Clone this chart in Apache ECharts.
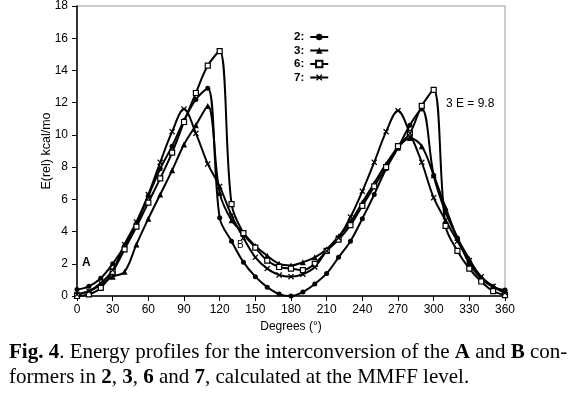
<!DOCTYPE html>
<html><head><meta charset="utf-8">
<script src="https://cdn.jsdelivr.net/npm/echarts@6/dist/echarts.min.js"></script>
<style>html,body{margin:0;padding:0;background:#fff}#c{width:580px;height:399px}</style>
</head><body><div id="c"></div>
<script>
const degrees = [0,10,20,30,40,50,60,70,80,90,100,110,120,130,140,150,160,170,180,190,200,210,220,230,240,250,260,270,280,290,300,310,320,330,340,350,360];
const s2 = [0.4,0.6,1.1,2.0,3.1,4.5,6.2,7.9,9.3,10.9,12.2,12.9,4.85,3.4,2.1,1.2,0.55,0.12,0.0,0.25,0.75,1.4,2.4,3.4,4.8,6.3,7.9,9.2,10.6,11.6,7.5,5.2,3.6,2.0,1.1,0.55,0.37];
const s3 = [0.1,0.3,0.7,1.2,1.5,3.2,4.8,6.3,7.8,9.4,10.6,11.8,6.4,4.7,3.9,3.1,2.5,2.0,1.9,2.1,2.4,2.9,3.7,4.6,5.8,7.0,8.2,9.2,9.8,9.3,7.5,5.5,3.6,2.3,1.1,0.6,0.2];
const s6 = [0.0,0.1,0.5,1.5,2.9,4.3,5.8,7.3,8.9,10.8,12.6,14.3,15.2,5.7,3.9,3.0,2.2,1.8,1.7,1.6,2.0,2.8,3.5,4.4,5.6,6.8,8.0,9.3,10.1,11.8,12.8,4.35,2.8,1.7,0.9,0.3,0.06];
const s7 = [0.1,0.3,0.8,1.6,3.2,4.6,6.3,8.3,10.2,11.6,10.1,8.2,6.8,5.0,3.6,2.4,1.7,1.3,1.2,1.35,1.8,2.8,3.6,4.9,6.5,8.3,10.2,11.5,10.1,8.3,6.1,4.7,3.4,2.2,1.2,0.6,0.2];
const seriesNames = ['2:','3:','6:','7:'];
const xTicks = {min:0,max:360,interval:30};
const yTicks = {min:0,max:18,interval:2};

const pairs = a => degrees.map((d,i)=>[d,a[i]]);
const xSym = 'path://M0,1.5L1.5,0L5,3.5L8.5,0L10,1.5L6.5,5L10,8.5L8.5,10L5,6.5L1.5,10L0,8.5L3.5,5Z';
const base = {type:'line',smooth:0.35,lineStyle:{color:'#000',width:2},symbolSize:5};
const chart = echarts.init(document.getElementById('c'),null,{renderer:'canvas'});
chart.setOption({
  animation:false,
  backgroundColor:'#fff',
  grid:{left:77,top:3,right:75,bottom:103,show:true,borderColor:'#999',borderWidth:1,backgroundColor:'#fff'},
  legend:{orient:'vertical',left:289,top:26,itemGap:1.5,itemWidth:18,itemHeight:8,align:'right',
    textStyle:{fontFamily:'Liberation Sans',fontSize:11.5,lineHeight:10,fontWeight:'bold',color:'#000',padding:[0,1,0,0]},
    data:seriesNames},
  xAxis:{type:'value',min:xTicks.min,max:xTicks.max,interval:xTicks.interval,
    name:'Degrees (°)',nameLocation:'middle',nameGap:23,
    nameTextStyle:{fontFamily:'Liberation Sans',fontSize:12,color:'#000'},
    axisLine:{lineStyle:{color:'#000',width:1.5}},axisTick:{inside:false,length:5,lineStyle:{color:'#000'}},
    axisLabel:{fontFamily:'Liberation Sans',fontSize:12,color:'#000',margin:8},splitLine:{show:false}},
  yAxis:{type:'value',min:yTicks.min,max:yTicks.max,interval:yTicks.interval,
    name:'E(rel) kcal/mo',nameLocation:'middle',nameGap:24,nameRotate:90,nameMoveOverlap:false,
    nameTextStyle:{fontFamily:'Liberation Sans',fontSize:12.5,color:'#000'},
    axisLine:{show:true,lineStyle:{color:'#000',width:1.5}},axisTick:{show:true,inside:false,length:5,lineStyle:{color:'#000'}},
    axisLabel:{fontFamily:'Liberation Sans',fontSize:12,color:'#000',margin:9},splitLine:{show:false}},
  series:[
    Object.assign({},base,{name:seriesNames[0],data:pairs(s2),symbol:'circle',itemStyle:{color:'#000'}}),
    Object.assign({},base,{name:seriesNames[1],data:pairs(s3),symbol:'triangle',symbolSize:6,itemStyle:{color:'#000'}}),
    Object.assign({},base,{name:seriesNames[2],data:pairs(s6),symbol:'rect',symbolSize:5,itemStyle:{color:'#fff',borderColor:'#000',borderWidth:1.2}}),
    Object.assign({},base,{name:seriesNames[3],data:pairs(s7),symbol:xSym,symbolSize:6,itemStyle:{color:'#000'}})
  ],
  graphic:[
    {type:'text',left:446,top:98,style:{text:'3 E = 9.8',font:'12px "Liberation Sans"',fill:'#000'}},
    {type:'text',left:82,top:257,style:{text:'A',font:'bold 12px "Liberation Sans"',fill:'#000'}},
    {type:'text',left:237,top:240,style:{text:'B',font:'10px "Liberation Sans"',fill:'#000'}},
    {type:'text',left:9,top:340,style:{
      text:'{b|Fig. 4}. Energy profiles for the interconversion of the {b|A} and {b|B} con-\nformers in {b|2}, {b|3}, {b|6} and {b|7}, calculated at the MMFF level.',
      font:'21px "Liberation Serif"',fill:'#000',lineHeight:25,
      rich:{b:{fontWeight:'bold',fontFamily:'Liberation Serif',fontSize:21}}}}
  ]
});
</script></body></html>
